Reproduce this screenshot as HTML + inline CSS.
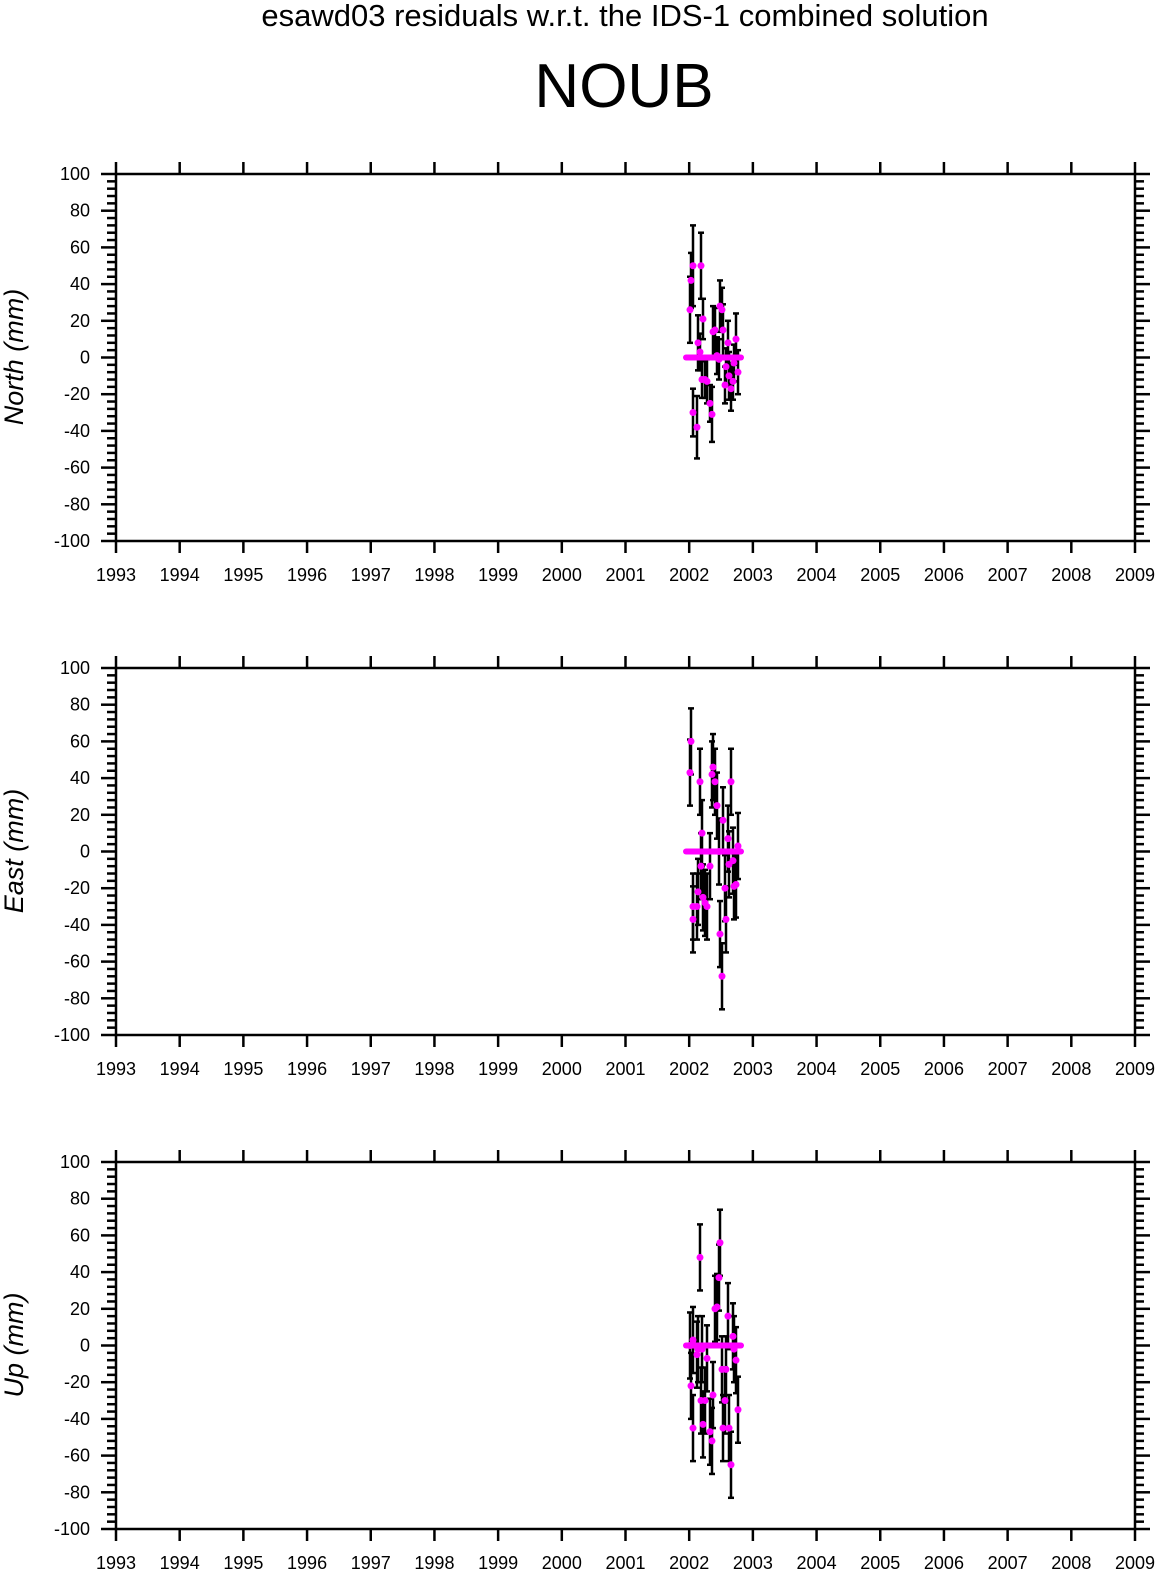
<!DOCTYPE html>
<html><head><meta charset="utf-8"><style>
body{margin:0;background:#fff}
svg{display:block;font-family:"Liberation Sans",sans-serif}
</style></head><body>
<svg id="s" width="1160" height="1575" xmlns="http://www.w3.org/2000/svg">
<text x="625" y="26" font-size="31" text-anchor="middle">esawd03 residuals w.r.t. the IDS-1 combined solution</text>
<text x="624" y="107" font-size="62" text-anchor="middle">NOUB</text>
<g font-size="27" font-style="italic" text-anchor="middle">
<text transform="translate(23,357) rotate(-90)">North (mm)</text>
<text transform="translate(23,851) rotate(-90)">East (mm)</text>
<text transform="translate(23,1345) rotate(-90)">Up (mm)</text>
</g>
<g font-size="18" text-anchor="end" id="yl"></g>
<g font-size="18" text-anchor="middle" id="xl"></g>
<g id="ax"></g>
</svg>
<script>
const NS="http://www.w3.org/2000/svg";
const s=document.getElementById('s'),ax=document.getElementById('ax'),yl=document.getElementById('yl'),xl=document.getElementById('xl');
function el(t,a,p){const e=document.createElementNS(NS,t);for(const k in a)e.setAttribute(k,a[k]);(p||ax).appendChild(e);return e;}
const L=116,R=1135,H=367,tops=[174,668,1162],k=H/200;
const xs=i=>L+i*(R-L)/16;
const data=[
[[690,26,18],[691,42,15],[693,50,22],[693,-30,13],[697,-38,17],[698,8,15],[700,3,10],[701,50,18],[702,-12,10],[703,21,11],[705,-12,10],[707,-13,12],[710,-25,10],[712,-31,15],[713,14,14],[715,15,12],[717,1,10],[719,-1,11],[720,28,14],[722,26,12],[723,15,14],[725,-15,10],[726,-5,10],[728,8,12],[729,-10,13],[731,-17,12],[733,-13,10],[734,-3,10],[736,10,14],[738,-8,12]],
[43,60,-37,-30,-30,-22,38,-8,10,-25,-28,-30,-8,42,46,38,25,0,-45,-68,17,-20,-37,7,-7,38,-5,-19,-18,3],
[0,-22,-45,3,-5,-2,48,-30,-2,-43,-30,-7,-47,-52,-27,20,21,37,56,-13,-45,-30,-13,16,-45,-65,5,-2,-8,-35]
];
const xsPos=data[0].map(d=>d[0]);
tops.forEach((T,p)=>{
  const B=T+H,y=v=>T+(100-v)*k;
  el('rect',{x:L,y:T,width:R-L,height:H,fill:'none',stroke:'#000','stroke-width':2.5});
  for(let v=-100;v<=100;v+=4){const maj=v%20==0,len=maj?15:9;
    el('line',{x1:L-len,x2:L,y1:y(v),y2:y(v),stroke:'#000','stroke-width':2.5});
    el('line',{x1:R,x2:R+len,y1:y(v),y2:y(v),stroke:'#000','stroke-width':2.5});
    if(maj){const t=el('text',{x:90,y:y(v)+6},yl);t.textContent=v;}}
  for(let i=0;i<=16;i++){const x=xs(i);
    el('line',{x1:x,x2:x,y1:T-12,y2:T,stroke:'#000','stroke-width':2.5});
    el('line',{x1:x,x2:x,y1:B,y2:B+12,stroke:'#000','stroke-width':2.5});
    const t=el('text',{x:x,y:B+40},xl);t.textContent=1993+i;}
  const pts=p==0?data[0]:data[p].map((v,i)=>[xsPos[i],v,18]);
  pts.forEach(([x,v,e])=>{
    el('line',{x1:x,x2:x,y1:y(v+e),y2:y(v-e),stroke:'#000','stroke-width':2.5});
    el('line',{x1:x-3,x2:x+3,y1:y(v+e),y2:y(v+e),stroke:'#000','stroke-width':2.5});
    el('line',{x1:x-3,x2:x+3,y1:y(v-e),y2:y(v-e),stroke:'#000','stroke-width':2.5});
  });
  el('line',{x1:686,x2:741,y1:y(0),y2:y(0),stroke:'#f0f','stroke-width':6,'stroke-linecap':'round'});
  pts.forEach(([x,v])=>el('circle',{cx:x,cy:y(v),r:3.5,fill:'#f0f'}));
});
</script>
</body></html>
